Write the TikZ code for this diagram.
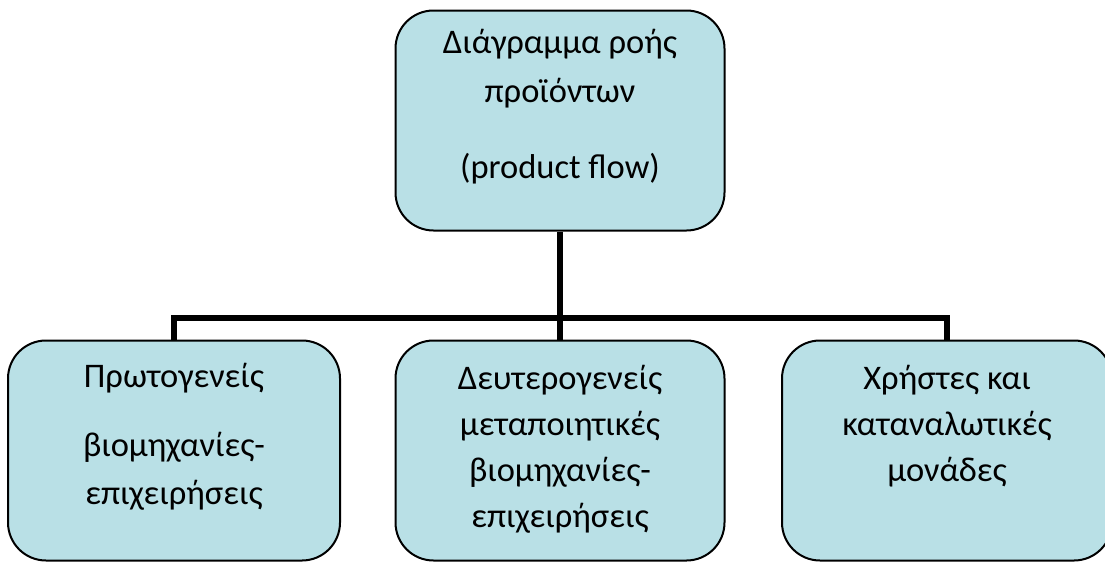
\documentclass[tikz,border=0pt]{standalone}
\usepackage{fontspec}
\setmainfont{Carlito}
\usetikzlibrary{positioning}
\definecolor{boxfill}{RGB}{185,224,230}

\begin{document}
\begin{tikzpicture}[x=1pt,y=-1pt,
    box/.style={draw, line width=2pt, fill=boxfill, rounded corners=38pt,
      minimum width=329pt, minimum height=220pt, inner sep=0pt},
    txt/.style={anchor=base, inner sep=0pt, font=\fontsize{34.5}{46}\selectfont},
    conn/.style={line width=5.5pt}]
  \useasboundingbox (0,0) rectangle (1105,563);
  \node[box] (flow) at (560,120.5) {};
  \node[box, minimum width=332pt] (prim) at (174,450.5) {};
  \node[box] (sec) at (560,450.5) {};
  \node[box, minimum width=330pt] (cons) at (947,450.5) {};
  \coordinate (hub) at (560,318);
  \draw[conn] (flow.south) -- (sec.north);
  \draw[conn] (prim.north) |- (hub) -| (cons.north);
  \node[txt] (flowtxt) at ([yshift=-44pt]flow.north)
    {\begin{tabular}[t]{c}Διάγραμμα ροής\\[3pt] προϊόντων\\[30pt] (product flow)\end{tabular}};
  \node[txt] (primtxt) at ([yshift=-48pt]prim.north)
    {\begin{tabular}[t]{c}Πρωτογενείς\\[23pt] βιομηχανίες-\\[2pt] επιχειρήσεις\end{tabular}};
  \node[txt] (sectxt) at ([yshift=-50pt]sec.north)
    {\begin{tabular}[t]{c}Δευτερογενείς\\ μεταποιητικές\\ βιομηχανίες-\\ επιχειρήσεις\end{tabular}};
  \node[txt] (constxt) at ([yshift=-50pt]cons.north)
    {\begin{tabular}[t]{c}Χρήστες και\\ καταναλωτικές\\ μονάδες\end{tabular}};
\end{tikzpicture}
\end{document}
